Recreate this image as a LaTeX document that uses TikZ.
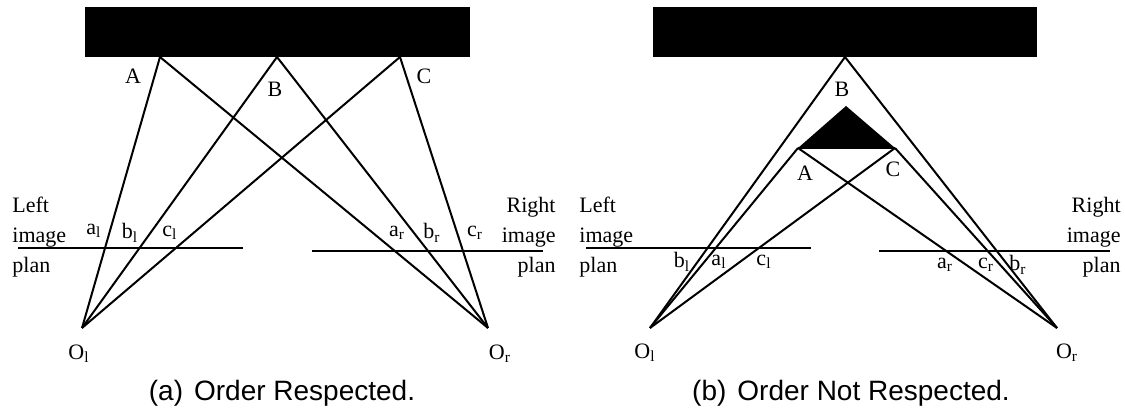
\documentclass[tikz,border=0pt]{standalone}
\usepackage{fontspec}
\setmainfont{Liberation Serif}
\setsansfont{Liberation Sans}
\usetikzlibrary{positioning}

\begin{document}
\begin{tikzpicture}[x=0.5pt,y=-0.5pt,
  ray/.style={line width=1pt},
  plane/.style={line width=1.4pt},
  lbl/.style={font=\fontsize{11}{13}\selectfont,inner sep=0pt},
  side/.style={font=\fontsize{11}{15}\selectfont,inner sep=0pt},
  caption/.style={font=\sffamily\fontsize{14}{16}\selectfont,inner sep=0pt}]
\useasboundingbox (0,0) rectangle (1125,416);

% (a) order respected
\coordinate (A) at (160,57);
\coordinate (B) at (277,57);
\coordinate (C) at (400,57);
\coordinate (Ol) at (82,328);
\coordinate (Or) at (488,328);
\foreach \p in {A,B,C} {\draw[ray] (Ol) -- (\p); \draw[ray] (Or) -- (\p);}
\fill (85,7) rectangle (470,57);
\coordinate (pl1) at (18,248);
\coordinate (pl2) at (243,248);
\coordinate (pr1) at (312,251);
\coordinate (pr2) at (543,251);
\draw[plane] (pl1) -- (pl2);
\draw[plane] (pr1) -- (pr2);
\node[lbl] (lA) at (133,76) {A};
\node[lbl] (lB) at (275,89) {B};
\node[lbl] (lC) at (424,76) {C};
\node[lbl] (al) at (94,231) {a\textsubscript{l}};
\node[lbl] (bl) at (130,233) {b\textsubscript{l}};
\node[lbl] (cl) at (170,233) {c\textsubscript{l}};
\node[lbl] (ar) at (397,233) {a\textsubscript{r}};
\node[lbl] (br) at (432,233) {b\textsubscript{r}};
\node[lbl] (cr) at (475,233) {c\textsubscript{r}};
\node[lbl] (lOl) at (79,354) {O\textsubscript{l}};
\node[lbl] (lOr) at (500,354) {O\textsubscript{r}};
\node[side,align=left,anchor=west] (lefta) at (12,237) {Left\\image\\plan};
\node[side,align=right,anchor=east] (righta) at (556,237) {Right\\image\\plan};
\node[caption] (capa) at (282,393) {(a)\hspace{5.5pt}Order Respected.};

% (b) order not respected
\coordinate (B2) at (845,57);
\coordinate (T2) at (846,106);
\coordinate (A2) at (798,148);
\coordinate (C2) at (895,148);
\coordinate (Ol2) at (650,328);
\coordinate (Or2) at (1057,328);
\foreach \p in {A2,B2,C2} {\draw[ray] (Ol2) -- (\p); \draw[ray] (Or2) -- (\p);}
\fill (653,7) rectangle (1037,57);
\fill (A2) -- (T2) -- (C2) -- cycle;
\draw[ray] (A2) -- (C2);
\coordinate (pl3) at (586,248);
\coordinate (pl4) at (811,248);
\coordinate (pr3) at (879,251);
\coordinate (pr4) at (1110,251);
\draw[plane] (pl3) -- (pl4);
\draw[plane] (pr3) -- (pr4);
\node[lbl] (lB2) at (842,89) {B};
\node[lbl] (lA2) at (805,173) {A};
\node[lbl] (lC2) at (893,169) {C};
\node[lbl] (bl2) at (682,262) {b\textsubscript{l}};
\node[lbl] (al2) at (719,262) {a\textsubscript{l}};
\node[lbl] (cl2) at (764,262) {c\textsubscript{l}};
\node[lbl] (ar2) at (945,265) {a\textsubscript{r}};
\node[lbl] (cr2) at (986,265) {c\textsubscript{r}};
\node[lbl] (br2) at (1018,265) {b\textsubscript{r}};
\node[lbl] (lOl2) at (645,353) {O\textsubscript{l}};
\node[lbl] (lOr2) at (1067,353) {O\textsubscript{r}};
\node[side,align=left,anchor=west] (leftb) at (579,237) {Left\\image\\plan};
\node[side,align=right,anchor=east] (rightb) at (1121,237) {Right\\image\\plan};
\node[caption] (capb) at (851,393) {(b)\hspace{5.5pt}Order Not Respected.};
\end{tikzpicture}
\end{document}
